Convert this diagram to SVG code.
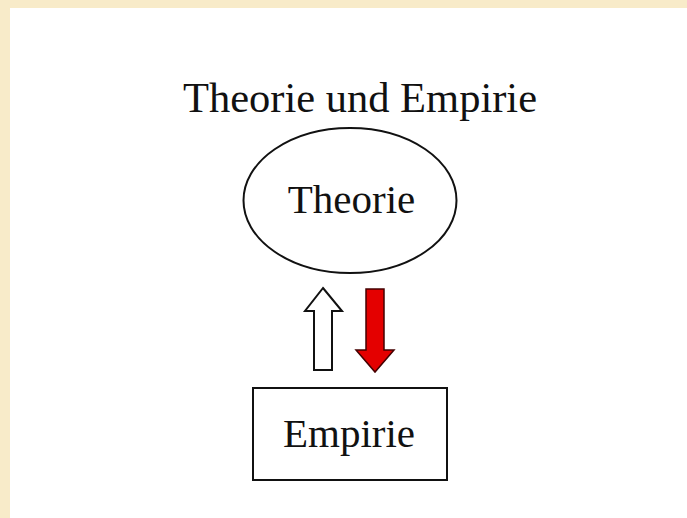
<svg xmlns="http://www.w3.org/2000/svg" width="687" height="518" viewBox="0 0 687 518">
<style>
text{font-family:"Liberation Serif","Times New Roman",serif;font-size:41px;fill:#111;text-anchor:middle}
.shape{fill:#fff;stroke:#111;stroke-width:2}
</style>
<rect width="687" height="518" fill="#fff"/>
<rect x="0" y="0" width="687" height="8" fill="#f8ebc9"/>
<rect x="0" y="0" width="10" height="518" fill="#f8ebc9"/>
<g id="title"><text x="360" y="112" style="font-size:42.5px">Theorie und Empirie</text></g>
<g id="theorie">
<ellipse class="shape" cx="350" cy="200.5" rx="106.5" ry="72.5"/>
<text x="351.5" y="213">Theorie</text>
</g>
<g id="empirie">
<rect class="shape" x="253" y="388" width="194" height="92" stroke-width="2.5"/>
<text x="349" y="447">Empirie</text>
</g>
<g id="connectors">
<polygon class="shape" points="323,288 342,311 332,311 332,370 314,370 314,311 305,311"/>
<polygon points="366,289 384,289 384,350 394,350 375,372 356,350 366,350" fill="#e40000" stroke="#400" stroke-width="1.5"/>
</g>
</svg>
